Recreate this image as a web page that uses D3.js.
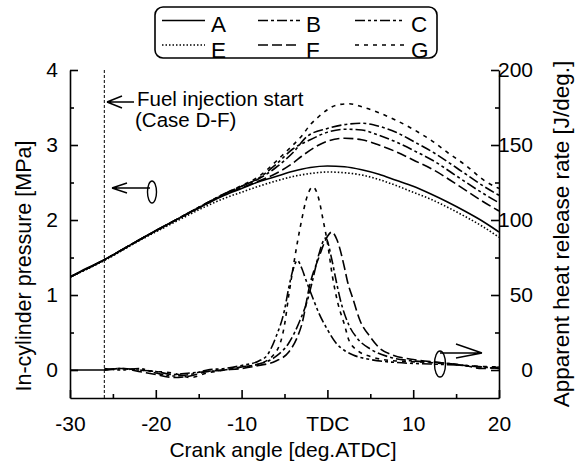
<!DOCTYPE html>
<html>
<head>
<meta charset="utf-8">
<script src="https://cdn.jsdelivr.net/npm/d3@7"></script>
<style>
  body { margin: 0; background: #fff; }
  svg { display: block; font-family: "Liberation Sans", Arial, sans-serif; }
</style>
</head>
<body>
<svg width="577" height="467"></svg>
<script>
// Crank angle ticks
const xMajor = [-30, -20, -10, 0, 10, 20];
const xMinor = [-25, -15, -5, 5, 15];
const pMajor = [0, 1, 2, 3, 4];
const pMinor = [0.5, 1.5, 2.5, 3.5];
const hMajor = [0, 50, 100, 150, 200];
const hMinor = [25, 75, 125, 175];

// In-cylinder pressure [MPa], [angle, value]
const pressA = [[-30,1.24],[-28,1.36],[-26,1.47],[-24,1.6],[-22,1.73],[-20,1.86],[-18,1.98],[-16,2.1],[-14,2.22],[-12,2.33],[-10,2.42],[-8,2.51],[-6,2.58],[-4,2.65],[-2,2.7],[0,2.72],[2,2.71],[4,2.67],[6,2.61],[8,2.53],[10,2.45],[12,2.35],[14,2.24],[16,2.12],[18,1.99],[20,1.84]];
const pressE = [[-30,1.24],[-26,1.46],[-22,1.72],[-18,1.96],[-14,2.19],[-12,2.29],[-10,2.37],[-8,2.45],[-6,2.52],[-4,2.58],[-2,2.62],[0,2.64],[2,2.63],[4,2.6],[6,2.54],[8,2.46],[10,2.37],[12,2.28],[14,2.17],[16,2.05],[18,1.92],[20,1.77]];
const pressB = [[-30,1.24],[-26,1.47],[-22,1.73],[-18,1.98],[-14,2.23],[-12,2.35],[-10,2.45],[-8,2.55],[-6,2.7],[-4,2.9],[-2.3,3.12],[0,3.22],[2.5,3.28],[4,3.29],[6,3.25],[8,3.17],[10,3.05],[12.5,2.89],[15,2.7],[18.5,2.43],[20,2.33]];
const pressC = [[-30,1.24],[-26,1.47],[-22,1.73],[-18,1.98],[-14,2.23],[-12,2.35],[-10,2.45],[-8,2.56],[-6,2.74],[-4,2.95],[-2,3.07],[0,3.17],[2,3.21],[4,3.2],[6,3.13],[8,3.04],[10,2.93],[12.5,2.78],[15,2.59],[18.5,2.33],[20,2.23]];
const pressF = [[-30,1.24],[-26,1.47],[-22,1.73],[-18,1.98],[-14,2.22],[-12,2.34],[-10,2.43],[-8,2.52],[-6,2.62],[-4,2.76],[-3,2.85],[-1,3.0],[0,3.05],[2,3.09],[4,3.07],[6,3.0],[8,2.91],[10,2.8],[12.5,2.66],[15,2.48],[18.5,2.22],[20,2.12]];
const pressG = [[-30,1.24],[-26,1.47],[-22,1.73],[-18,1.98],[-14,2.23],[-12,2.35],[-10,2.46],[-8,2.58],[-6,2.78],[-5,2.89],[-4,3.0],[-3,3.12],[-2,3.27],[-1,3.38],[0,3.47],[1,3.53],[2.5,3.55],[4,3.51],[6,3.43],[8,3.33],[10,3.21],[12.5,3.03],[14,2.9],[16,2.74],[18.5,2.51],[20,2.42]];

// Apparent heat release rate [J/deg.], [angle, value]
const hrrA = [[-30,0],[-26,0]];
const hrrB = [[-26,0],[-24,1],[-22,0],[-20,-1],[-18,-3],[-16,-2],[-14,-1],[-12,0],[-10,2],[-8,4],[-6,9],[-4.5,18],[-3.2,33],[-2.3,47],[-1.8,58],[-1,77],[-0.2,88],[0.5,74],[1,60],[1.5,47],[2.5,30],[3.5,21],[5,14],[7,9],[10,6],[13,5],[16,3],[20,1]];
const hrrC = [[-26,1],[-24,0],[-22,1],[-20,-2],[-18,-4],[-16,-3],[-14,0],[-12,1],[-10,3],[-8,6],[-7,10],[-6,22],[-5,40],[-4.5,55],[-4,67],[-3.5,73],[-3,68],[-2.5,60],[-1.7,48],[-1,38],[0,27],[1,18],[2,13],[3,10],[5,7],[8,5],[12,4],[16,3],[20,1]];
const hrrF = [[-26,0],[-24,1],[-22,-1],[-20,-3],[-18,-5],[-16,-4],[-14,-1],[-12,0],[-10,1],[-8,3],[-6,6],[-4.5,12],[-3.5,22],[-3,30],[-2,58],[-1,75],[0,89],[0.5,92],[1.1,87],[2,68],[2.3,60],[3,47],[3.8,33],[5,22],[6,15],[7.6,10],[10,7],[13,5],[16,3],[18,1],[20,2]];
const hrrG = [[-26,0],[-24,1],[-22,0],[-20,-1],[-18,-2],[-16,-5],[-14,-2],[-12,0],[-10,2],[-8,4],[-6,12],[-5,30],[-4.5,50],[-4,68],[-3.5,85],[-3,100],[-2.5,113],[-1.7,122],[-1,114],[-0.5,100],[0,85],[0.6,62],[1.2,45],[2,30],[2.5,20],[3.5,13],[5,9],[8,6],[12,5],[16,3],[20,2]];

// Legend cases and line styles
const cases = ["A", "B", "C", "E", "F", "G"];
const dashes = { A: null, B: "10,3,3,3", C: "10,3,3,3,3,3", E: "1.5,2", F: "10,4", G: "4,5" };
const injectionAngle = -26;

const svg = d3.select("svg");
const plotL = 70, plotR = 499, plotT = 70, plotB = 398;

const x = d3.scaleLinear().domain([-30, 20]).range([plotL, plotR]);
const yP = d3.scaleLinear().domain([-0.373, 4]).range([plotB, plotT]);
const yH = d3.scaleLinear().domain([-18.67, 200]).range([plotB, plotT]);

svg.append("defs").append("clipPath").attr("id", "plot")
  .append("rect").attr("x", plotL).attr("y", plotT - 10)
  .attr("width", plotR - plotL).attr("height", plotB - plotT + 10);

const lineP = d3.line().x(d => x(d[0])).y(d => yP(d[1])).curve(d3.curveMonotoneX);
const lineH = d3.line().x(d => x(d[0])).y(d => yH(d[1])).curve(d3.curveMonotoneX);

const curves = svg.append("g").attr("clip-path", "url(#plot)")
  .attr("fill", "none").attr("stroke", "#000").attr("stroke-width", 1.6);

const pressure = { A: pressA, B: pressB, C: pressC, E: pressE, F: pressF, G: pressG };
const hrr = { A: hrrA, B: hrrB, C: hrrC, F: hrrF, G: hrrG };

Object.keys(pressure).forEach(k => {
  curves.append("path").attr("d", lineP(pressure[k])).attr("stroke-dasharray", dashes[k]);
});
Object.keys(hrr).forEach(k => {
  curves.append("path").attr("d", lineH(hrr[k])).attr("stroke-dasharray", dashes[k]);
});

// fuel injection start line
svg.append("line")
  .attr("x1", x(injectionAngle)).attr("x2", x(injectionAngle))
  .attr("y1", plotT).attr("y2", plotB)
  .attr("stroke", "#000").attr("stroke-width", 1).attr("stroke-dasharray", "3,2");

// axes
function styleAxis(g) {
  g.selectAll("path, line").attr("stroke", "#000").attr("stroke-width", 1.6);
  g.selectAll("text").attr("fill", "#000").style("font-size", "21px")
    .style("font-family", '"Liberation Sans", Arial, sans-serif');
}

const gx = svg.append("g").attr("transform", `translate(0,${plotB})`)
  .call(d3.axisBottom(x).tickValues(xMajor).tickSize(-8).tickSizeOuter(0)
    .tickFormat(d => d === 0 ? "TDC" : d));
gx.selectAll("text").attr("y", 18).attr("dy", "0.71em");
styleAxis(gx);
svg.append("g").attr("transform", `translate(0,${plotB})`)
  .call(d3.axisBottom(x).tickValues(xMinor).tickSize(-4).tickFormat(""))
  .call(g => g.select(".domain").remove()).call(styleAxis);

const gl = svg.append("g").attr("transform", `translate(${plotL},0)`)
  .call(d3.axisLeft(yP).tickValues(pMajor).tickSize(-8).tickSizeOuter(0).tickFormat(d3.format("d")));
gl.selectAll("text").attr("x", -12);
styleAxis(gl);
svg.append("g").attr("transform", `translate(${plotL},0)`)
  .call(d3.axisLeft(yP).tickValues(pMinor).tickSize(-4).tickFormat(""))
  .call(g => g.select(".domain").remove()).call(styleAxis);

const gr = svg.append("g").attr("transform", `translate(${plotR},0)`)
  .call(d3.axisRight(yH).tickValues(hMajor).tickSize(-8).tickSizeOuter(0));
gr.selectAll("text").attr("x", 34).attr("text-anchor", "end");
styleAxis(gr);
svg.append("g").attr("transform", `translate(${plotR},0)`)
  .call(d3.axisRight(yH).tickValues(hMinor).tickSize(-4).tickFormat(""))
  .call(g => g.select(".domain").remove()).call(styleAxis);

// axis titles
svg.append("text").attr("x", 283).attr("y", 457).attr("text-anchor", "middle")
  .style("font-size", "21px").text("Crank angle [deg.ATDC]");
svg.append("text").attr("transform", "translate(31,266) rotate(-90)").attr("text-anchor", "middle")
  .style("font-size", "21.5px").text("In-cylinder pressure [MPa]");
svg.append("text").attr("transform", "translate(569,234) rotate(-90)").attr("text-anchor", "middle")
  .style("font-size", "22.5px").text("Apparent heat release rate [J/deg.]");

// annotation
svg.append("text").attr("x", 137).attr("y", 106).style("font-size", "20.5px").text("Fuel injection start");
svg.append("text").attr("x", 135).attr("y", 127).style("font-size", "20.5px").text("(Case D-F)");
const ann = svg.append("g").attr("fill", "none").attr("stroke", "#000").attr("stroke-width", 1.4);
ann.append("path").attr("d", "M107,102 L134,102 M107,102 L122,96 M107,102 L122,108");

// axis indicator arrows
ann.append("path").attr("d", "M112,188 L150,188 M112,188 L127,183 M112,188 L127,193");
ann.append("ellipse").attr("cx", 152).attr("cy", 192).attr("rx", 4.5).attr("ry", 11);
ann.append("path").attr("d", "M440,353 L482,353 M482,353 L456,344 M482,353 L456,358");
ann.append("ellipse").attr("cx", 440).attr("cy", 364).attr("rx", 5.5).attr("ry", 13);

// legend
const lg = svg.append("g");
lg.append("rect").attr("x", 155).attr("y", 7).attr("width", 282).attr("height", 51).attr("rx", 8)
  .attr("fill", "#fff").attr("stroke", "#000").attr("stroke-width", 1.6);
const colX = [162, 258, 355];
const colW = [43, 42, 50];
cases.forEach((c, i) => {
  const col = i % 3, row = Math.floor(i / 3);
  const ly = row === 0 ? 20.5 : 45;
  lg.append("line").attr("x1", colX[col]).attr("x2", colX[col] + colW[col])
    .attr("y1", ly).attr("y2", ly).attr("stroke", "#000").attr("stroke-width", 1.6)
    .attr("stroke-dasharray", dashes[c]);
  lg.append("text").attr("x", colX[col] + colW[col] + 6).attr("y", row === 0 ? 32 : 57.5)
    .style("font-size", "22.5px").text(c);
});
</script>
</body>
</html>
